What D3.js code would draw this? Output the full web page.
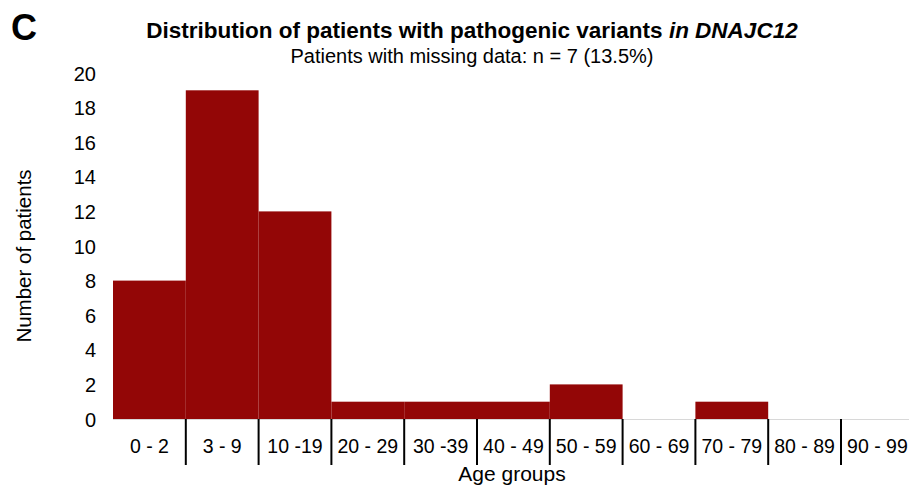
<!DOCTYPE html>
<html>
<head>
<meta charset="utf-8">
<script src="https://cdn.jsdelivr.net/npm/d3@7"></script>
<style>
  body { margin: 0; background: #fff; }
  text { font-family: "Liberation Sans", Arial, sans-serif; fill: #000; }
</style>
</head>
<body>
<div id="chart"></div>
<script>
  // age groups and counts
  let ageGroups = ["0 - 2", "3 - 9", "10 -19", "20 - 29", "30 -39", "40 - 49", "50 - 59", "60 - 69", "70 - 79", "80 - 89", "90 - 99"];
  let patients = [8, 19, 12, 1, 1, 1, 2, 0, 1, 0, 0];
  let yTicks = [0, 2, 4, 6, 8, 10, 12, 14, 16, 18, 20];

  let width = 909, height = 488;
  let plotLeft = 113, bandW = 72.8, plotTop = 73, plotBottom = 419;

  let svg = d3.select("#chart").append("svg")
    .attr("width", width)
    .attr("height", height);

  let xScale = d3.scaleBand()
    .domain(ageGroups)
    .range([plotLeft, plotLeft + bandW * ageGroups.length])
    .padding(0);

  let yScale = d3.scaleLinear()
    .domain([0, 20])
    .range([plotBottom, plotTop]);

  // bars
  svg.append("g")
    .selectAll("rect")
    .data(ageGroups)
    .enter()
    .append("rect")
      .attr("x", d => xScale(d))
      .attr("width", xScale.bandwidth())
      .attr("y", (d, i) => yScale(patients[i]))
      .attr("height", (d, i) => plotBottom - yScale(patients[i]))
      .style("fill", "#930606");

  // baseline
  svg.append("line")
    .attr("x1", plotLeft).attr("x2", width)
    .attr("y1", plotBottom + 0.5).attr("y2", plotBottom + 0.5)
    .style("stroke", "#d8d8d8").style("stroke-width", 1);

  // y axis labels (no axis line)
  let yAxis = svg.append("g")
    .attr("transform", "translate(" + 96 + ",0)")
    .call(d3.axisLeft(yScale).tickValues(yTicks).tickSize(0).tickPadding(0));
  yAxis.select(".domain").remove();
  yAxis.selectAll("text")
    .style("font-family", "'Liberation Sans', Arial, sans-serif")
    .style("font-size", "20px")
    .attr("dy", "0.35em");

  // category separators
  svg.append("g")
    .selectAll("line")
    .data(ageGroups.slice(1, 11))
    .enter()
    .append("line")
      .attr("x1", d => xScale(d)).attr("x2", d => xScale(d))
      .attr("y1", plotBottom).attr("y2", 465)
      .style("stroke", "#000").style("stroke-width", 2);

  // category labels
  svg.append("g")
    .selectAll("text")
    .data(ageGroups)
    .enter()
    .append("text")
      .attr("x", d => xScale(d) + xScale.bandwidth() / 2)
      .attr("y", 446)
      .attr("dy", "0.35em")
      .attr("text-anchor", "middle")
      .style("font-size", "19.5px")
      .text(d => d);

  // axis titles
  svg.append("text")
    .attr("x", 512).attr("y", 474)
    .attr("dy", "0.35em")
    .attr("text-anchor", "middle")
    .style("font-size", "21px")
    .text("Age groups");

  svg.append("text")
    .attr("transform", "translate(24," + 256 + ") rotate(-90)")
    .attr("dy", "0.35em")
    .attr("text-anchor", "middle")
    .style("font-size", "20.5px")
    .text("Number of patients");

  // titles
  svg.append("text")
    .attr("x", 11).attr("y", 40)
    .style("font-size", "36px")
    .style("font-weight", "bold")
    .text("C");

  let title = svg.append("text")
    .attr("x", 472).attr("y", 38)
    .attr("text-anchor", "middle")
    .style("font-size", "22.5px")
    .style("font-weight", "bold");
  title.append("tspan").text("Distribution of patients with pathogenic variants ");
  title.append("tspan").style("font-style", "italic").text("in DNAJC12");

  svg.append("text")
    .attr("x", 472).attr("y", 63)
    .attr("text-anchor", "middle")
    .style("font-size", "20px")
    .text("Patients with missing data: n = 7 (13.5%)");
</script>
</body>
</html>
